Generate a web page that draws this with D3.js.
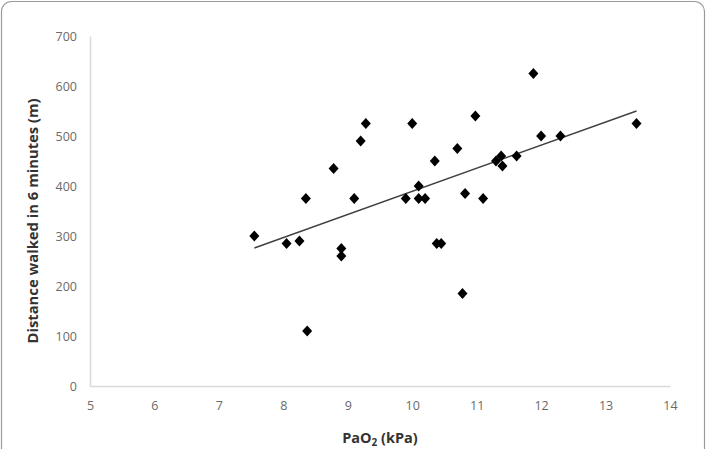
<!DOCTYPE html>
<html>
<head>
<meta charset="utf-8">
<script src="https://cdn.jsdelivr.net/npm/d3@7"></script>
<style>
  html, body { margin: 0; padding: 0; background: #fff; }
  svg { display: block; }
</style>
</head>
<body>
<div id="chart"></div>
<script>
// PaO2 (kPa) vs distance walked in 6 minutes (m)
const pao2 = [7.55, 8.05, 8.25, 8.35, 8.37, 8.78, 8.9, 8.9, 9.1, 9.2, 9.28, 9.9, 10.0, 10.1, 10.1, 10.2,
  10.35, 10.38, 10.45, 10.7, 10.78, 10.82, 10.98, 11.1, 11.3, 11.38, 11.4, 11.62, 11.88, 12.0, 12.3, 13.48];
const distance = [300, 285, 290, 375, 110, 435, 275, 260, 375, 490, 525, 375, 525, 400, 375, 375,
  450, 285, 285, 475, 185, 385, 540, 375, 450, 460, 440, 460, 625, 500, 500, 525];

// linear trendline, endpoints
const trendX = [7.55, 13.48];
const trendY = [276, 550];

const xTicks = [5, 6, 7, 8, 9, 10, 11, 12, 13, 14];
const yTicks = [0, 100, 200, 300, 400, 500, 600, 700];

const W = 706, H = 449;
const margin = { left: 90, right: 36, top: 36, bottom: 63 };

const svg = d3.select("#chart").append("svg")
  .attr("width", W)
  .attr("height", H);

// outer frame (bottom edge is cut off in the original)
svg.append("rect")
  .attr("x", 1.5).attr("y", 1.5)
  .attr("width", W - 3).attr("height", H + 20)
  .attr("rx", 10)
  .attr("fill", "#fff")
  .attr("stroke", "#9a9a9a")
  .attr("stroke-width", 1.2);

const x = d3.scaleLinear().domain([5, 14]).range([margin.left, W - margin.right]);
const y = d3.scaleLinear().domain([0, 700]).range([H - margin.bottom, margin.top]);

const font = "'Open Sans', 'Liberation Sans', sans-serif";

// axes
const xAxis = svg.append("g")
  .attr("transform", `translate(0,${y(0)})`)
  .call(d3.axisBottom(x).tickValues(xTicks).tickSize(0).tickPadding(15).tickFormat(d3.format("d")));
const yAxis = svg.append("g")
  .attr("transform", `translate(${x(5)},0)`)
  .call(d3.axisLeft(y).tickValues(yTicks).tickSize(0).tickPadding(13).tickFormat(d3.format("d")));

[xAxis, yAxis].forEach(g => {
  g.select(".domain").attr("stroke", "#d9d9d9").attr("stroke-width", 1.5);
  g.selectAll("text")
    .attr("fill", "#6a6a6a")
    .style("font-family", font)
    .style("font-size", "12.5px");
});

// trendline
svg.append("line")
  .attr("x1", x(trendX[0])).attr("y1", y(trendY[0]))
  .attr("x2", x(trendX[1])).attr("y2", y(trendY[1]))
  .attr("stroke", "#404040")
  .attr("stroke-width", 1.4);

// diamond markers
const pts = pao2.map((v, i) => ({ x: v, y: distance[i] }));
svg.append("g").selectAll("path")
  .data(pts)
  .join("path")
  .attr("transform", d => `translate(${x(d.x)},${y(d.y)})`)
  .attr("d", "M0,-5.5L5,0L0,5.5L-5,0Z")
  .attr("fill", "#000");

// axis titles
svg.append("text")
  .attr("transform", `translate(38,221) rotate(-90)`)
  .attr("text-anchor", "middle")
  .style("font-family", font)
  .style("font-size", "14.8px")
  .style("font-weight", "bold")
  .attr("fill", "#333")
  .text("Distance walked in 6 minutes (m)");

const xt = svg.append("text")
  .attr("x", (x(5) + x(14)) / 2)
  .attr("y", 443)
  .attr("text-anchor", "middle")
  .style("font-family", font)
  .style("font-size", "14.5px")
  .style("font-weight", "bold")
  .attr("fill", "#333");
xt.append("tspan").text("PaO");
xt.append("tspan").attr("dy", 2.5).style("font-size", "10px").text("2");
xt.append("tspan").attr("dy", -2.5).text("\u00a0(kPa)");
</script>
</body>
</html>
